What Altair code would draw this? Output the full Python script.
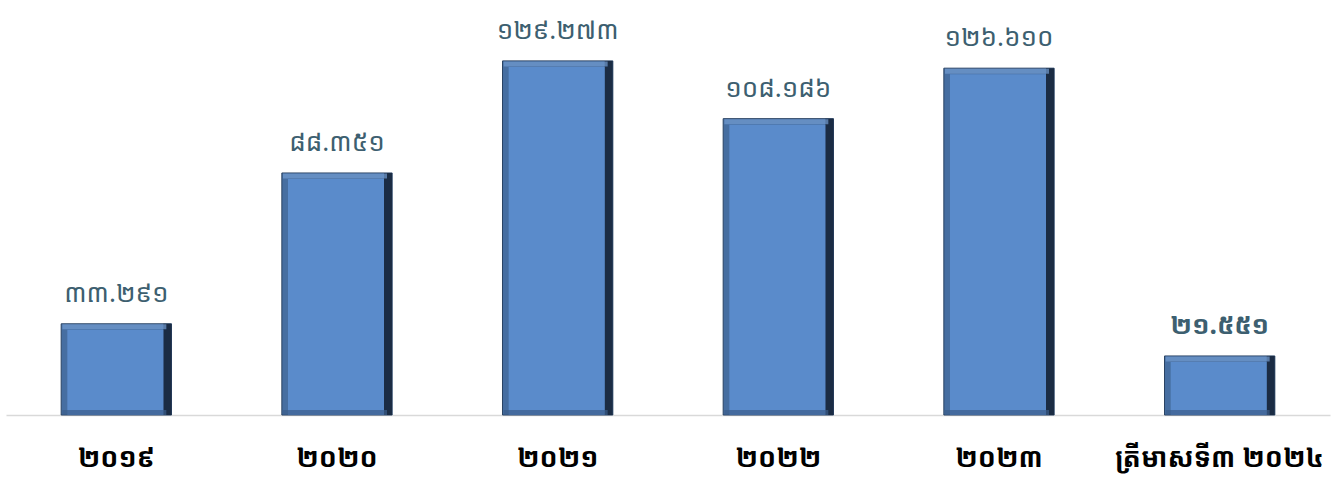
import altair as alt
import pandas as pd

categories = ["២០១៩", "២០២០", "២០២១", "២០២២", "២០២៣", "ត្រីមាសទី៣ ២០២៤"]
values = [33.291, 88.351, 129.273, 108.186, 126.610, 21.551]
value_labels = ["៣៣.២៩១", "៨៨.៣៥១", "១២៩.២៧៣", "១០៨.១៨៦", "១២៦.៦១០", "២១.៥៥១"]
label_bold = [False, False, False, False, False, True]

df = pd.DataFrame({
    "cat": categories,
    "val": values,
    "zero": [0] * len(values),
    "lab": value_labels,
    "bold": ["bold" if b else "normal" for b in label_bold],
})

FONT = "Noto Sans Khmer, Khmer OS, Noto Sans, sans-serif"

x = alt.X("cat:N", sort=categories,
          scale=alt.Scale(paddingInner=0.5, paddingOuter=0.25),
          axis=alt.Axis(title=None, labelAngle=0, ticks=False, domainColor="#d9d9d9",
                        domainWidth=1.5, labelFontSize=27, labelFont=FONT, labelLimit=0,
                        labelFontWeight="bold", labelColor="#000000", labelPadding=30))
y = alt.Y("val:Q", scale=alt.Scale(domain=[0, 151.5]), axis=None)
y0 = alt.Y("zero:Q", scale=alt.Scale(domain=[0, 151.5]), axis=None)

base = alt.Chart(df)

outer = base.mark_bar(color="#466ea1", stroke="#2a4363", strokeWidth=1).encode(x=x, y=y)
right = base.mark_bar(color="#1b2c44", width=8, xOffset=51).encode(x=x, y=y)
top = base.mark_tick(color="#729bd0", thickness=5, size=104, yOffset=3, xOffset=-2).encode(x=x, y=y)
face = base.mark_bar(color="#5a8bcb", width=96, xOffset=-1, yOffset=6, clip=True).encode(x=x, y=y)
bottom = base.mark_tick(color="#3b5d8a", thickness=10, size=104, xOffset=-2, clip=True).encode(
    x=x, y=y0)

labels_normal = base.transform_filter(alt.datum.bold == "normal").mark_text(
    font=FONT, fontSize=26, color="#3d5f70", baseline="bottom", dy=-17
).encode(x=x, y=y, text="lab:N")
labels_bold = base.transform_filter(alt.datum.bold == "bold").mark_text(
    font=FONT, fontSize=26, fontWeight="bold", color="#3d5f70", baseline="bottom", dy=-17
).encode(x=x, y=y, text="lab:N")

chart = alt.layer(outer, right, top, face, bottom, labels_normal, labels_bold).properties(
    width=1324, height=415,
    autosize=alt.AutoSizeParams(type="none"),
    padding={"left": 6, "right": 8, "top": 0, "bottom": 67},
).configure_view(stroke=None)

chart.save("out.html", embed_options={"renderer": "svg", "actions": False})
